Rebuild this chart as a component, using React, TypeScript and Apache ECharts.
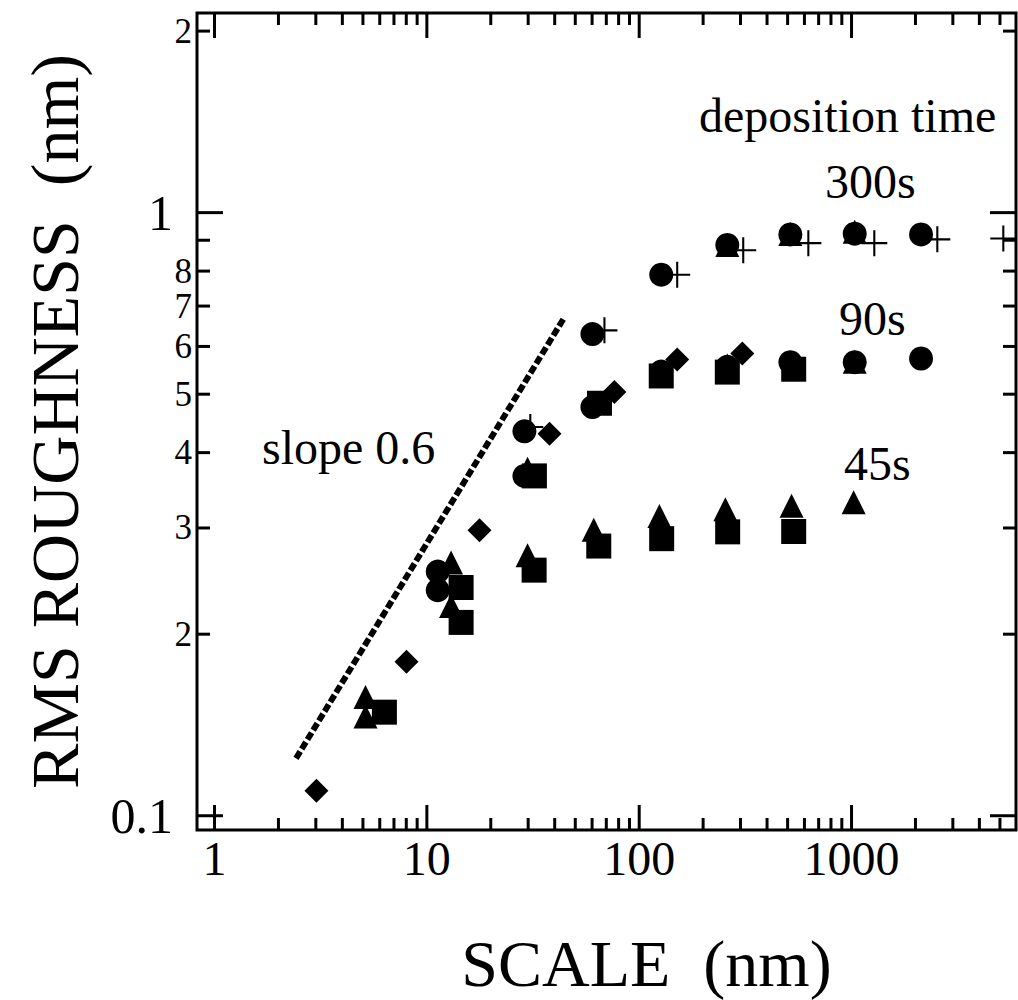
import React, { useEffect, useRef } from 'react';
import * as echarts from 'echarts';

const X_MIN = 0.827;
const X_MAX = 5950;
const Y_MIN = 0.0947;
const Y_MAX = 2.143;

// 300 s
const circles300 = [[11.25, 0.254], [28.8, 0.434], [60.2, 0.629], [127, 0.789], [260, 0.884], [515, 0.92], [1035, 0.923], [2125, 0.92]];
const triangles300 = [[260, 0.884], [515, 0.922], [1035, 0.93]];
const plus300 = [[30.7, 0.441], [68.6, 0.638], [151, 0.789], [309, 0.866], [626, 0.89], [1280, 0.89], [2535, 0.903], [5185, 0.906]];
// 90 s
const circles90 = [[11.25, 0.2366], [28.8, 0.366], [60.2, 0.476], [127, 0.545], [260, 0.555], [515, 0.565], [1035, 0.565], [2125, 0.573]];
const squares90 = [[14.5, 0.239], [32.1, 0.366], [65, 0.483], [127, 0.536], [260, 0.544], [534, 0.55]];
const diamonds90 = [[3.02, 0.11], [8.02, 0.18], [17.7, 0.2975], [37.8, 0.43], [76.4, 0.504], [151, 0.571], [306, 0.584]];
const triangles90 = [[5.14, 0.1573], [13.0, 0.263], [29.8, 0.376], [260, 0.558], [1035, 0.566]];
// 45 s
const triangles45 = [[5.14, 0.146], [13.0, 0.2227], [29.8, 0.2704], [61.1, 0.298], [124.5, 0.3139], [254.6, 0.3223], [522, 0.3266], [1023, 0.3311]];
const squares45 = [[6.31, 0.1485], [14.5, 0.2092], [32.0, 0.2554], [64.5, 0.28], [127.6, 0.288], [261, 0.2956], [534, 0.296]];

const slopeLine = [[2.42, 0.1245], [44.5, 0.671]];

const xMajorTicks = [1, 10, 100, 1000];
const xMinorTicks = [2, 3, 4, 5, 6, 7, 8, 9, 20, 30, 40, 50, 60, 70, 80, 90, 200, 300, 400, 500, 600, 700, 800, 900, 2000, 3000, 4000, 5000];
const yMajorTicks = [0.1, 1];
const yMinorTicks = [0.2, 0.3, 0.4, 0.5, 0.6, 0.7, 0.8, 0.9, 2];
const yMinorLabels = [0.2, 0.3, 0.4, 0.5, 0.6, 0.7, 0.8, 2];

const annotations = ['deposition time', '300s', '90s', '45s', 'slope 0.6'];

const FONT = '"Liberation Serif", "Times New Roman", serif';
const PLUS_PATH = 'path://M0,11.5H25V13.5H0Z M11.5,0H13.5V25H11.5Z';

const isPow10 = (v: number) => Math.abs(Math.log10(v) - Math.round(Math.log10(v))) < 1e-6;

export default function App() {
  const ref = useRef<HTMLDivElement>(null);

  useEffect(() => {
    if (!ref.current) return;
    const chart = echarts.init(ref.current, null, { renderer: 'svg' });

    const xTickData = [
      ...xMajorTicks.map((v) => [v, 1, 1]),
      ...xMinorTicks.map((v) => [v, 1, 0]),
    ];
    const yTickData = [
      ...yMajorTicks.map((v) => [1, v, 1, 0]),
      ...yMinorTicks.map((v) => [1, v, 0, yMinorLabels.indexOf(v) >= 0 ? 1 : 0]),
    ];

    const scatter = (name: string, data: number[][], symbol: string, size: number, z: number) => ({
      name,
      type: 'scatter',
      data,
      symbol,
      symbolSize: size,
      itemStyle: { color: '#000', opacity: 1 },
      z,
    });

    const annot = (i: number, x: number, y: number) => ({
      type: 'text',
      x,
      y,
      style: { text: annotations[i], fill: '#000', fontFamily: FONT, fontSize: 48, align: 'left', verticalAlign: 'middle' },
    });

    const option: any = {
      animation: false,
      backgroundColor: '#fff',
      grid: {
        left: 197,
        top: 13,
        width: 819,
        height: 817,
        containLabel: false,
        outerBoundsMode: 'none',
        show: true,
        borderColor: '#000',
        borderWidth: 3,
        backgroundColor: 'transparent',
      },
      xAxis: {
        type: 'log',
        logBase: 10,
        min: X_MIN,
        max: X_MAX,
        axisLine: { show: false },
        axisTick: { show: false },
        splitLine: { show: false },
        minorTick: { show: false },
        axisLabel: {
          color: '#000',
          fontFamily: FONT,
          fontSize: 48,
          margin: 4,
          showMinLabel: false,
          showMaxLabel: false,
          formatter: (v: number) => (isPow10(v) ? String(v) : ''),
        },
        name: 'SCALE  (nm)',
        nameLocation: 'middle',
        nameGap: 100,
        nameTextStyle: { color: '#000', fontFamily: FONT, fontSize: 66, padding: [0, 0, 0, 80] },
      },
      yAxis: {
        type: 'log',
        logBase: 10,
        min: Y_MIN,
        max: Y_MAX,
        axisLine: { show: false },
        axisTick: { show: false },
        splitLine: { show: false },
        minorTick: { show: false },
        axisLabel: {
          color: '#000',
          fontFamily: FONT,
          fontSize: 50,
          margin: 24,
          showMinLabel: false,
          showMaxLabel: false,
          formatter: (v: number) => (isPow10(v) ? String(v) : ''),
        },
        name: 'RMS ROUGHNESS  (nm)',
        nameLocation: 'middle',
        nameRotate: 90,
        nameGap: 108,
        nameTextStyle: { color: '#000', fontFamily: FONT, fontSize: 68 },
      },
      graphic: [
        annot(0, 699, 115),
        annot(1, 825, 181),
        annot(2, 839, 318),
        annot(3, 844, 463),
        annot(4, 262, 447),
      ],
      series: [
        {
          name: 'slope 0.6',
          type: 'line',
          data: slopeLine,
          symbol: 'none',
          lineStyle: { color: '#000', width: 6, type: [8, 3] },
          z: 2,
        },
        scatter('45s triangles', triangles45, 'triangle', 24, 3),
        scatter('90s triangles', triangles90, 'triangle', 24, 3),
        scatter('300s triangles', triangles300, 'triangle', 24, 3),
        scatter('300s plus', plus300, PLUS_PATH, 26, 4),
        scatter('300s circles', circles300, 'circle', 24, 5),
        scatter('90s circles', circles90, 'circle', 24, 5),
        scatter('45s squares', squares45, 'rect', 25, 6),
        scatter('90s squares', squares90, 'rect', 25, 6),
        scatter('90s diamonds', diamonds90, 'diamond', 24, 7),
        {
          name: 'xticks',
          type: 'custom',
          data: xTickData,
          clip: false,
          silent: true,
          z: 10,
          renderItem: (params: any, api: any) => {
            const v = api.value(0);
            const major = api.value(2);
            const p = api.coord([v, 1]);
            const cs = params.coordSys;
            const len = major ? 25 : 12;
            const st = { stroke: '#000', lineWidth: 3 };
            return {
              type: 'group',
              children: [
                { type: 'line', shape: { x1: p[0], y1: cs.y + cs.height, x2: p[0], y2: cs.y + cs.height - len }, style: st },
                { type: 'line', shape: { x1: p[0], y1: cs.y, x2: p[0], y2: cs.y + len }, style: st },
              ],
            };
          },
        },
        {
          name: 'yticks',
          type: 'custom',
          data: yTickData,
          clip: false,
          silent: true,
          z: 10,
          renderItem: (params: any, api: any) => {
            const v = api.value(1);
            const major = api.value(2);
            const hasLabel = api.value(3);
            const p = api.coord([1, v]);
            const cs = params.coordSys;
            const len = major ? 26 : 13;
            const st = { stroke: '#000', lineWidth: 3 };
            const children: any[] = [
              { type: 'line', shape: { x1: cs.x, y1: p[1], x2: cs.x + len, y2: p[1] }, style: st },
              { type: 'line', shape: { x1: cs.x + cs.width, y1: p[1], x2: cs.x + cs.width - len, y2: p[1] }, style: st },
            ];
            if (hasLabel) {
              const txt = v < 1 ? String(Math.round(v * 10)) : String(v);
              children.push({
                type: 'text',
                x: cs.x - 5,
                y: p[1],
                style: { text: txt, fill: '#000', fontFamily: FONT, fontSize: 35, lineHeight: 26, align: 'right', verticalAlign: 'middle' },
              });
            }
            return { type: 'group', children };
          },
        },
      ],
    };

    chart.setOption(option);
    return () => chart.dispose();
  }, []);

  return <div ref={ref} style={{ position: 'fixed', left: 0, top: 0, width: 1018, height: 1000, background: '#fff' }} />;
}
